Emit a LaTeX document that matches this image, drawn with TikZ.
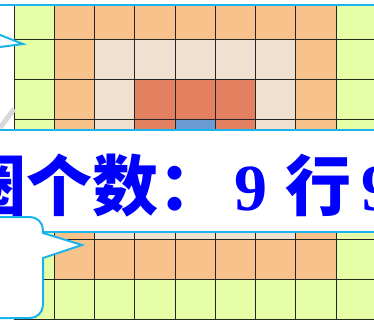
\documentclass[tikz,border=0pt]{standalone}
\usepackage{fontspec}
\newfontfamily\cjk{Noto Sans CJK SC}
\newfontfamily\digits{Liberation Serif}
\definecolor{ringgreen}{RGB}{230,255,166}
\definecolor{ringorange}{RGB}{248,195,139}
\definecolor{ringbeige}{RGB}{240,224,208}
\definecolor{ringred}{RGB}{226,128,95}
\definecolor{ringblue}{RGB}{106,155,211}
\definecolor{frameblue}{RGB}{25,180,235}
\definecolor{textblue}{RGB}{0,0,255}
\tikzstyle{cell} = [draw=black!85, line width=0.9pt]
\tikzstyle{frame} = [draw=frameblue, line width=2pt]
\tikzstyle{callout} = [draw=frameblue, line width=2pt, fill=white, line join=miter]
\tikzstyle{banner} = [font=\cjk\bfseries\fontsize{66}{70}\selectfont, text=textblue, inner sep=0pt, anchor=base west]

\begin{document}
\begin{tikzpicture}[x=1pt, y=-1pt]
\useasboundingbox (0,0) rectangle (374,320);
\clip (0,0) rectangle (374,320);
\fill[white] (0,0) rectangle (374,320);
% 9x9 grid, one colour per ring
\foreach \r in {0,...,8} {
  \foreach \c in {0,...,8} {
    \pgfmathtruncatemacro{\ring}{min(\r,\c,8-\r,8-\c)}
    \ifcase\ring\relax \def\col{ringgreen}\or \def\col{ringorange}\or \def\col{ringbeige}\or \def\col{ringred}\else \def\col{ringblue}\fi
    \path[fill=\col, cell] (14+40.25*\c, -41+40*\r) rectangle +(40.25,40);
  }
}
\fill[white] (0,130) rectangle (374,232);
\fill[white] (0,0) rectangle (374,5.5);
\fill[white] (0,0) rectangle (13.5,130);
\draw[line width=5pt, black!15] (0,128) -- (14,109);
\draw[frame] (0,5.5) -- (374,5.5);
\draw[frame] (0,130) -- (374,130);
\draw[frame] (0,232) -- (374,232);
\node (title) [banner] at (-40,210) {圈个数：\hspace{10pt}{\digits 9}\hspace{18pt}行\hspace{10pt}{\digits 9}};
% callouts
\path[fill=white] (-10,31) -- (23,44) -- (-10,48.3) -- cycle;
\draw[frame, line join=miter] (-10,31) -- (23,44) -- (-10,48.3);
\draw[callout] (-20,217) -- (30,217) arc[start angle=-90, end angle=0, radius=13] -- (43,233) -- (82,245) -- (43,258) -- (43,305) arc[start angle=0, end angle=90, radius=13] -- (-20,318) -- cycle;
\end{tikzpicture}
\end{document}
